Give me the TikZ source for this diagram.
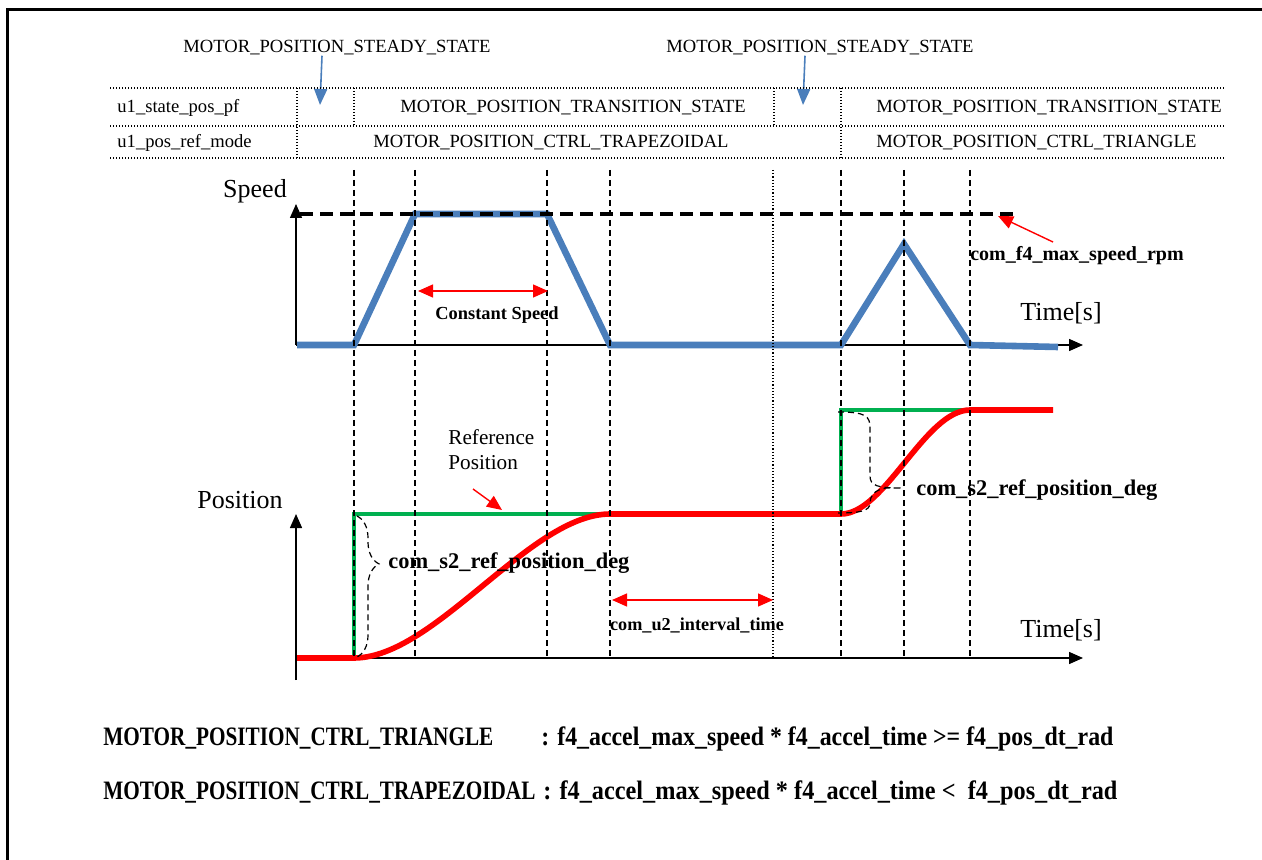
\documentclass[tikz,border=0pt]{standalone}
\usepackage{fontspec}
\setmainfont{Liberation Serif}
\usetikzlibrary{decorations.pathreplacing, arrows.meta}

\definecolor{speedblue}{RGB}{74,126,187}
\definecolor{refgreen}{RGB}{0,176,80}
\definecolor{posred}{RGB}{255,0,0}

% Text auf feste Breite (in pt) bringen, Hoehe bleibt
\newcommand{\fitto}[2]{\resizebox{#1pt}{\height}{#2}}

\begin{document}
\begin{tikzpicture}[x=0.5pt, y=-0.5pt,
  every node/.style={inner sep=0pt},
  tabtext/.style={font=\fontsize{9.3}{11}\selectfont},
  axistext/.style={font=\fontsize{13}{15}\selectfont},
  vartext/.style={font=\bfseries\fontsize{#1}{#1}\selectfont}, vartext/.default=10,
  eqtext/.style={font=\bfseries\fontsize{13.3}{15}\selectfont, anchor=base west},
  tabline/.style={line width=0.7pt, dash pattern=on 0.7pt off 0.8pt},
  guide/.style={line width=0.6pt, dash pattern=on 3pt off 2pt},
  guidedot/.style={line width=0.6pt, dash pattern=on 0.6pt off 1pt},
  axis/.style={line width=0.7pt, -{Triangle[width=6pt,length=7pt]}},
  redarrow/.style={posred, line width=0.7pt, -{Triangle[width=6.5pt,length=7.5pt]}},
  redboth/.style={posred, line width=0.7pt, {Triangle[width=6.5pt,length=7.5pt]}-{Triangle[width=6.5pt,length=7.5pt]}},
  statearrow/.style={speedblue, line width=0.8pt, -{Triangle[width=6.5pt,length=8pt]}},
]
\useasboundingbox (0,0) rectangle (1262,860);

% Rahmen
\draw[line width=1.5pt] (7,860) -- (7,10) -- (1262,10);

% Zustandsnamen oben
\node[tabtext] (steady1) at (337,48) {MOTOR\_POSITION\_STEADY\_STATE};
\node[tabtext] (steady2) at (820,48) {MOTOR\_POSITION\_STEADY\_STATE};
\coordinate (steadytip1) at (320,105);
\coordinate (steadytip2) at (803,105);
\draw[statearrow] ([xshift=-7.5pt]steady1.south) -- (steadytip1);
\draw[statearrow] ([xshift=-7.5pt]steady2.south) -- (steadytip2);

% Tabelle
\foreach \y in {88,126,158}
  \draw[tabline] (110,\y) -- (1225,\y);
\draw[tabline] (297,88) -- (297,158);
\draw[tabline] (354,88) -- (354,126);
\draw[tabline] (774,88) -- (774,126);
\draw[tabline] (841,88) -- (841,158);

\node[tabtext, anchor=west] (statepf) at (117,108) {u1\_state\_pos\_pf};
\node[tabtext, anchor=west] (refmode) at (117,143) {u1\_pos\_ref\_mode};
\node[tabtext, anchor=west] (trans1) at (400,108) {MOTOR\_POSITION\_TRANSITION\_STATE};
\node[tabtext, anchor=west] (trans2) at (876,108) {MOTOR\_POSITION\_TRANSITION\_STATE};
\node[tabtext] (trapez) at (551,143) {MOTOR\_POSITION\_CTRL\_TRAPEZOIDAL};
\node[tabtext, anchor=west] (triang) at (876,143) {MOTOR\_POSITION\_CTRL\_TRIANGLE};

% Geschwindigkeit
\draw[axis] (296,345) -- (296,204);
\draw[axis] (296,345) -- (1083,345);
\node[axistext] (speed) at (255,191) {Speed};
\node[axistext] (time1) at (1061,313) {Time[s]};
\draw[speedblue, line width=3.3pt] (297,345) -- (354,345) -- (415,214) -- (547,214) -- (610,345)
  -- (841,345) -- (904,244) -- (970,345) -- (1058,347);
\draw[line width=1.6pt, dash pattern=on 6.5pt off 3.5pt] (300,214) -- (1020,214);

% Position
\draw[axis] (296,680) -- (296,514);
\draw[axis] (296,658) -- (1083,658);
\node[axistext] (position) at (240,500) {Position};
\node[axistext] (time2) at (1061,630) {Time[s]};
\draw[refgreen, line width=2.3pt] (354,658) -- (354,514) -- (612,514);
\draw[refgreen, line width=2.3pt] (841,514) -- (841,410) -- (970,410);
\draw[posred, line width=2.8pt] (297,658) -- (354,658) .. controls (435,658) and (530,514) .. (610,514)
  -- (841,514) .. controls (885,514) and (925,410) .. (970,410) -- (1053,410);

% Zeitmarken
\foreach \x in {354,415,547,610,841,904,970}
  \draw[guide] (\x,170) -- (\x,658);
\draw[guidedot] (773,170) -- (773,658);

% Beschriftungen
\coordinate (cs1) at (418,291);
\coordinate (cs2) at (548,291);
\draw[redboth] (cs1) -- (cs2);
\node[vartext=9.2] (constspeed) at (497,315) {Constant Speed};

\node[vartext] (maxspeed) at (1077,256) {com\_f4\_max\_speed\_rpm};
\coordinate (maxtail) at (1053,242);
\coordinate (maxtip) at (998,216);
\draw[redarrow] (maxtail) -- (maxtip);

\node[font=\fontsize{10.6}{12.5}\selectfont, align=left, anchor=west] (refpos) at (448,450) {Reference\\Position};
\coordinate (reftail) at (473,489);
\coordinate (reftip) at (502,510);
\draw[redarrow] (reftail) -- (reftip);

\draw[guide, decorate, decoration={brace, amplitude=11pt, aspect=0.34}] (357,516) -- (357,657);
\node[vartext=11.2, anchor=west] (refdeg1) at (388,563) {com\_s2\_ref\_position\_deg};

\draw[guide] (838,412) .. controls (866,412) and (870,416) .. (870,428) -- (870,476)
  .. controls (870,486) and (878,488) .. (902,488) -- (886,488)
  .. controls (874,490) and (870,496) .. (870,503) .. controls (870,511) and (860,513) .. (838,513);
\node[vartext=11.2, anchor=west] (refdeg2) at (916,490) {com\_s2\_ref\_position\_deg};

\coordinate (int1) at (612,600);
\coordinate (int2) at (773,600);
\draw[redboth] (int1) -- (int2);
\node[vartext=9.1] (interval) at (697,625) {com\_u2\_interval\_time};

% Bedingungen
\node[eqtext] (tri) at (103,745) {\fitto{195}{MOTOR\_POSITION\_CTRL\_TRIANGLE}};
\node[eqtext] (tricond) at (541,745) {\fitto{286}{: f4\_accel\_max\_speed * f4\_accel\_time >= f4\_pos\_dt\_rad}};
\node[eqtext] (trap) at (103,799) {\fitto{216}{MOTOR\_POSITION\_CTRL\_TRAPEZOIDAL}};
\node[eqtext] (trapcond) at (543,799) {\fitto{287}{: f4\_accel\_max\_speed * f4\_accel\_time <\ \ f4\_pos\_dt\_rad}};

\end{tikzpicture}
\end{document}
